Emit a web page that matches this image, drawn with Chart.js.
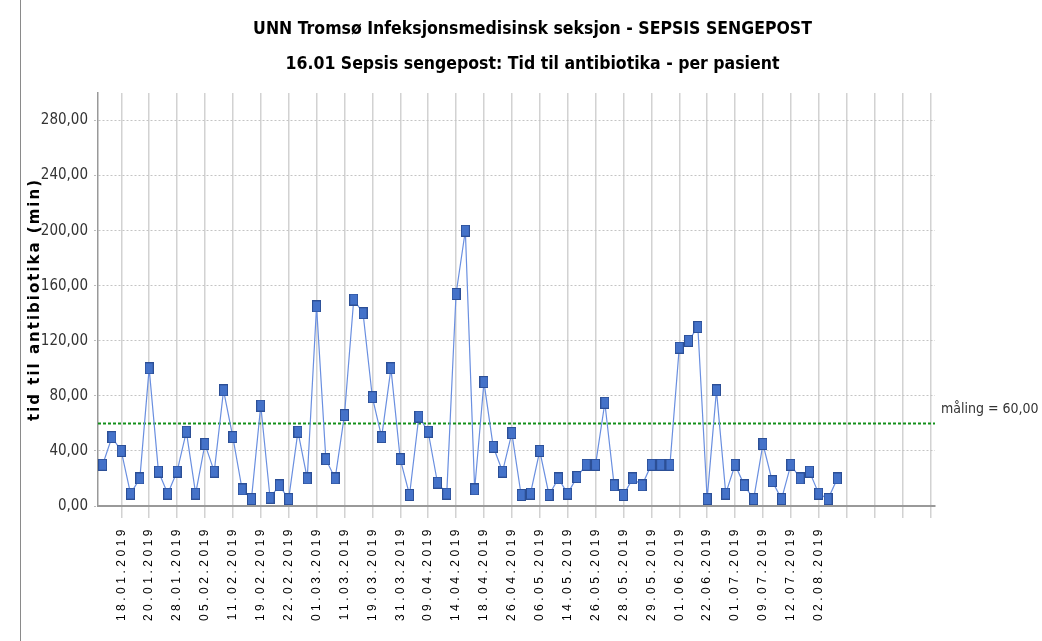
<!DOCTYPE html>
<html>
<head>
<meta charset="utf-8">
<script src="https://cdn.jsdelivr.net/npm/chart.js@4.4.1/dist/chart.umd.min.js"></script>
<style>
  body { margin: 0; background: #fff; }
  canvas { display: block; }
</style>
</head>
<body>
<canvas id="sepsisChart" width="1042" height="641"></canvas>
<script>
// category slots on the x axis; a date label sits on every third slot
const slotCount = 90;
const firstLabelSlot = 2;
const labelEvery = 3;

const tickDates = [
  "18.01.2019", "20.01.2019", "28.01.2019", "05.02.2019", "11.02.2019", "19.02.2019",
  "22.02.2019", "01.03.2019", "11.03.2019", "19.03.2019", "31.03.2019", "09.04.2019",
  "14.04.2019", "18.04.2019", "26.04.2019", "06.05.2019", "14.05.2019", "26.05.2019",
  "28.05.2019", "29.05.2019", "01.06.2019", "22.06.2019", "01.07.2019", "09.07.2019",
  "12.07.2019", "02.08.2019"
];

// minutes to antibiotics, one value per patient
const minutes = [
  30, 50, 40, 9, 20, 100, 25, 9, 25, 54, 9, 45, 25, 84,
  50, 12, 5, 73, 6, 15, 5, 54, 20, 145, 34, 20, 66,
  150, 140, 79, 50, 100, 34, 8, 65, 54, 17, 9, 154, 200, 12,
  90, 43, 25, 53, 8, 9, 40, 8, 20, 9, 21, 30, 30,
  75, 15, 8, 20, 15, 30, 30, 30, 115, 120, 130, 5, 84, 9,
  30, 15, 5, 45, 18, 5, 30, 20, 25, 9, 5, 20
];

const targetValue = 60;
const targetText = "måling = 60,00";

const yMax = 300;
const yStep = 40;

const labels = Array.from({ length: slotCount }, (_, i) => {
  const k = (i - firstLabelSlot) / labelEvery;
  return Number.isInteger(k) && k >= 0 && k < tickDates.length ? tickDates[k] : "";
});

const narrow = "'Liberation Sans Narrow', 'DejaVu Sans Condensed', sans-serif";

// tall square marker like the original
const marker = document.createElement("canvas");
marker.width = 9;
marker.height = 12;
(function () {
  const m = marker.getContext("2d");
  m.fillStyle = "#4472c9";
  m.fillRect(0, 0, 9, 12);
  m.strokeStyle = "#2c4f96";
  m.lineWidth = 1;
  m.strokeRect(0.5, 0.5, 8, 11);
})();

// axes whose vertical texts get extra letter spacing
class SpacedCategoryScale extends Chart.CategoryScale {
  drawLabels(chartArea) {
    this.ctx.save();
    this.ctx.letterSpacing = "3.5px";
    super.drawLabels(chartArea);
    this.ctx.restore();
  }
}
SpacedCategoryScale.id = "spacedCategory";
SpacedCategoryScale.defaults = Chart.CategoryScale.defaults;

class SpacedLinearScale extends Chart.LinearScale {
  drawTitle() {
    this.ctx.save();
    this.ctx.letterSpacing = "2px";
    super.drawTitle();
    this.ctx.restore();
  }
}
SpacedLinearScale.id = "spacedLinear";
SpacedLinearScale.defaults = Chart.LinearScale.defaults;

Chart.register(SpacedCategoryScale, SpacedLinearScale);

const backdrop = {
  id: "backdrop",
  beforeDraw(chart) {
    const ctx = chart.ctx;
    ctx.save();
    ctx.fillStyle = "#fff";
    ctx.fillRect(0, 0, chart.width, chart.height);
    ctx.strokeStyle = "#8a8a8a";
    ctx.lineWidth = 1;
    ctx.beginPath();
    ctx.moveTo(20.5, 0);
    ctx.lineTo(20.5, chart.height);
    ctx.stroke();
    ctx.restore();
  }
};

const targetLine = {
  id: "targetLine",
  beforeDatasetsDraw(chart) {
    const { ctx, chartArea } = chart;
    const y = chart.scales.y.getPixelForValue(targetValue);
    ctx.save();
    ctx.strokeStyle = "#13901a";
    ctx.lineWidth = 2;
    ctx.setLineDash([3, 2]);
    ctx.beginPath();
    ctx.moveTo(chartArea.left, y);
    ctx.lineTo(chartArea.right, y);
    ctx.stroke();
    ctx.restore();
  },
  afterDraw(chart) {
    const { ctx, chartArea } = chart;
    const y = chart.scales.y.getPixelForValue(targetValue);
    ctx.save();
    ctx.font = "14px " + narrow;
    ctx.fillStyle = "#333";
    ctx.textBaseline = "middle";
    ctx.fillText(targetText, chartArea.right + 6, y - 14);
    ctx.restore();
  }
};

new Chart(document.getElementById("sepsisChart"), {
  type: "line",
  data: {
    labels: labels,
    datasets: [{
      data: minutes,
      borderColor: "#6a8fe0",
      borderWidth: 1.2,
      tension: 0,
      pointStyle: marker,
      pointRadius: 6,
      pointHoverRadius: 6
    }]
  },
  options: {
    responsive: false,
    animation: false,
    layout: { padding: { left: 23, right: 0, top: 0, bottom: 0 } },
    plugins: {
      legend: { display: false },
      tooltip: { enabled: false },
      title: {
        display: true,
        text: [
          "UNN Tromsø Infeksjonsmedisinsk seksjon - SEPSIS SENGEPOST",
          "16.01 Sepsis sengepost: Tid til antibiotika - per pasient"
        ],
        color: "#000",
        font: { family: narrow, size: 17.5, weight: "bold", lineHeight: 2 },
        padding: { top: 12, bottom: 11 }
      }
    },
    scales: {
      x: {
        type: "spacedCategory",
        offset: true,
        afterFit: (s) => { s.height = 135; },
        grid: {
          offset: false,
          color: (c) => c.index % labelEvery === firstLabelSlot ? "#d2d2d2" : "rgba(0,0,0,0)",
          tickColor: (c) => c.index % labelEvery === firstLabelSlot ? "#d2d2d2" : "rgba(0,0,0,0)",
          lineWidth: 1.5,
          tickLength: 12
        },
        border: { color: "#999", width: 2 },
        ticks: {
          autoSkip: false,
          minRotation: 90,
          maxRotation: 90,
          padding: 8,
          color: "#000",
          font: { family: "'Liberation Sans', Arial, sans-serif", size: 12 }
        }
      },
      y: {
        type: "spacedLinear",
        min: 0,
        max: yMax,
        afterFit: (s) => { s.width = 75; },
        grid: {
          color: "#c4c4c4",
          lineWidth: 1,
          tickLength: 4,
          tickColor: "#bbb",
          tickBorderDash: [2, 2]
        },
        border: { color: "#999", width: 1.5, dash: [2, 2] },
        ticks: {
          stepSize: yStep,
          includeBounds: false,
          padding: 6,
          color: "#333",
          font: { family: narrow, size: 15 },
          callback: (v) => v.toFixed(2).replace(".", ",")
        },
        title: {
          display: true,
          text: "tid til antibiotika (min)",
          color: "#000",
          font: { family: "'DejaVu Sans', sans-serif", size: 15, weight: "bold" },
          padding: { top: 3, bottom: 0 }
        }
      },
      yRight: {
        position: "right",
        afterFit: (s) => { s.width = 107; },
        ticks: { display: false },
        grid: { display: false },
        border: { display: false }
      }
    }
  },
  plugins: [backdrop, targetLine]
});
</script>
</body>
</html>
